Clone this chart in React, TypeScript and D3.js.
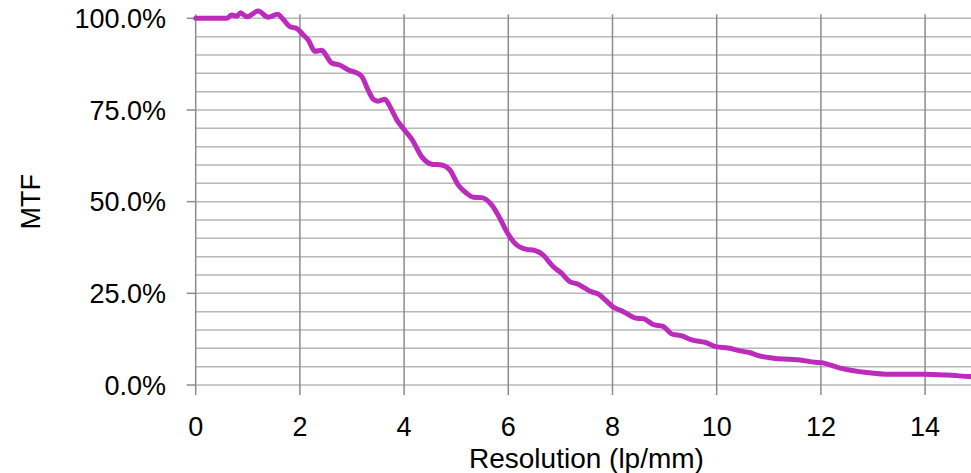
import { useEffect, useRef } from 'react';
import * as d3 from 'd3';

// MTF curve: resolution (lp/mm) and MTF (%)
const resolution = [
  0, 0.6, 0.69, 0.79, 0.86, 0.98, 1.2, 1.39, 1.57, 1.68, 1.81, 1.93, 2.07, 2.16, 2.29, 2.42,
  2.48, 2.61, 2.77, 2.93, 3.09, 3.19, 3.31, 3.41, 3.5, 3.63, 3.73, 3.86, 3.98, 4.15, 4.34,
  4.53, 4.72, 4.88, 5.04, 5.2, 5.33, 5.49, 5.68, 5.84, 5.97, 6.13, 6.35, 6.48, 6.67, 6.86,
  7.02, 7.18, 7.34, 7.47, 7.6, 7.73, 7.86, 8.02, 8.21, 8.46, 8.59, 8.78, 8.97, 9.14, 9.33,
  9.52, 9.78, 10.0, 10.22, 10.45, 10.64, 10.8, 11.09, 11.41, 11.6, 11.89, 12.0, 12.37,
  12.88, 13.33, 14.0, 14.41, 14.86, 15,
];
const mtf = [
  100, 100, 100.9, 100.6, 101.5, 100.4, 102.0, 100.3, 101.1, 99.7, 97.7, 97.3, 95.4, 94.1,
  91.0, 91.3, 90.4, 87.8, 87.2, 85.9, 85.1, 84.1, 80.4, 77.9, 77.4, 77.9, 75.9, 72.3, 70.0,
  67.0, 62.2, 60.2, 60.0, 58.6, 54.5, 52.3, 51.2, 51.1, 49.1, 45.4, 41.8, 38.6, 37.0, 36.8,
  35.4, 32.3, 30.5, 28.2, 27.5, 26.4, 25.4, 24.8, 23.2, 21.2, 20.0, 18.2, 18.1, 16.5, 16.0,
  13.9, 13.4, 12.3, 11.6, 10.4, 10.1, 9.3, 8.8, 8.0, 7.3, 7.0, 6.8, 6.2, 6.1, 4.6, 3.4, 2.9,
  2.9, 2.7, 2.3, 2.2,
];
const xTicks = [0, 2, 4, 6, 8, 10, 12, 14];
const yTicks = [0, 25, 50, 75, 100];
const yMinor = d3.range(0, 101, 5);

const W = 971;
const H = 473;
const FONT = '"Liberation Sans", Arial, sans-serif';

export default function App() {
  const ref = useRef<SVGSVGElement>(null);

  useEffect(() => {
    const svg = d3.select(ref.current);
    svg.selectAll('*').remove();

    const x = d3.scaleLinear().domain([0, 15]).range([195.7, 977.2]);
    const y = d3.scaleLinear().domain([0, 100]).range([385, 18.3]);

    // horizontal gridlines every 5%
    svg
      .append('g')
      .selectAll('line')
      .data(yMinor)
      .join('line')
      .attr('x1', x(0))
      .attr('x2', W)
      .attr('y1', (d) => y(d))
      .attr('y2', (d) => y(d))
      .attr('stroke', '#b8b8b8')
      .attr('stroke-width', 1.5);

    // vertical gridlines
    svg
      .append('g')
      .selectAll('line')
      .data(xTicks)
      .join('line')
      .attr('x1', (d) => x(d))
      .attr('x2', (d) => x(d))
      .attr('y1', y(100) - 4)
      .attr('y2', y(0) + 10)
      .attr('stroke', '#8c8c8c')
      .attr('stroke-width', 1.5);

    // y axis ticks
    svg
      .append('g')
      .selectAll('line')
      .data(yTicks)
      .join('line')
      .attr('x1', x(0) - 9)
      .attr('x2', x(0))
      .attr('y1', (d) => y(d))
      .attr('y2', (d) => y(d))
      .attr('stroke', '#8c8c8c')
      .attr('stroke-width', 1.5);

    svg
      .append('g')
      .style('font', `27px ${FONT}`)
      .selectAll('text')
      .data(yTicks)
      .join('text')
      .attr('x', 166)
      .attr('y', (d) => y(d))
      .attr('dy', '0.36em')
      .attr('text-anchor', 'end')
      .attr('fill', '#000')
      .text((d) => d.toFixed(1) + '%');

    svg
      .append('g')
      .style('font', `27px ${FONT}`)
      .selectAll('text')
      .data(xTicks)
      .join('text')
      .attr('x', (d) => x(d))
      .attr('y', 436)
      .attr('text-anchor', 'middle')
      .attr('fill', '#000')
      .text((d) => d);

    const line = d3
      .line<number>()
      .x((d) => x(d))
      .y((_d, i) => y(mtf[i]))
      .curve(d3.curveMonotoneX);

    svg
      .append('path')
      .attr('d', line(resolution))
      .attr('fill', 'none')
      .attr('stroke', '#bc2bbc')
      .attr('stroke-width', 5)
      .attr('stroke-linejoin', 'round')
      .attr('stroke-linecap', 'round');

    svg
      .append('text')
      .attr('x', x(7.5))
      .attr('y', 467.5)
      .attr('text-anchor', 'middle')
      .style('font', `28px ${FONT}`)
      .text('Resolution (lp/mm)');

    svg
      .append('text')
      .attr('transform', `translate(${40},${y(50)}) rotate(-90)`)
      .attr('text-anchor', 'middle')
      .style('font', `27px ${FONT}`)
      .text('MTF');
  }, []);

  return (
    <svg
      ref={ref}
      width={W}
      height={H}
      style={{ position: 'absolute', left: 0, top: 0, background: '#fff' }}
    />
  );
}
